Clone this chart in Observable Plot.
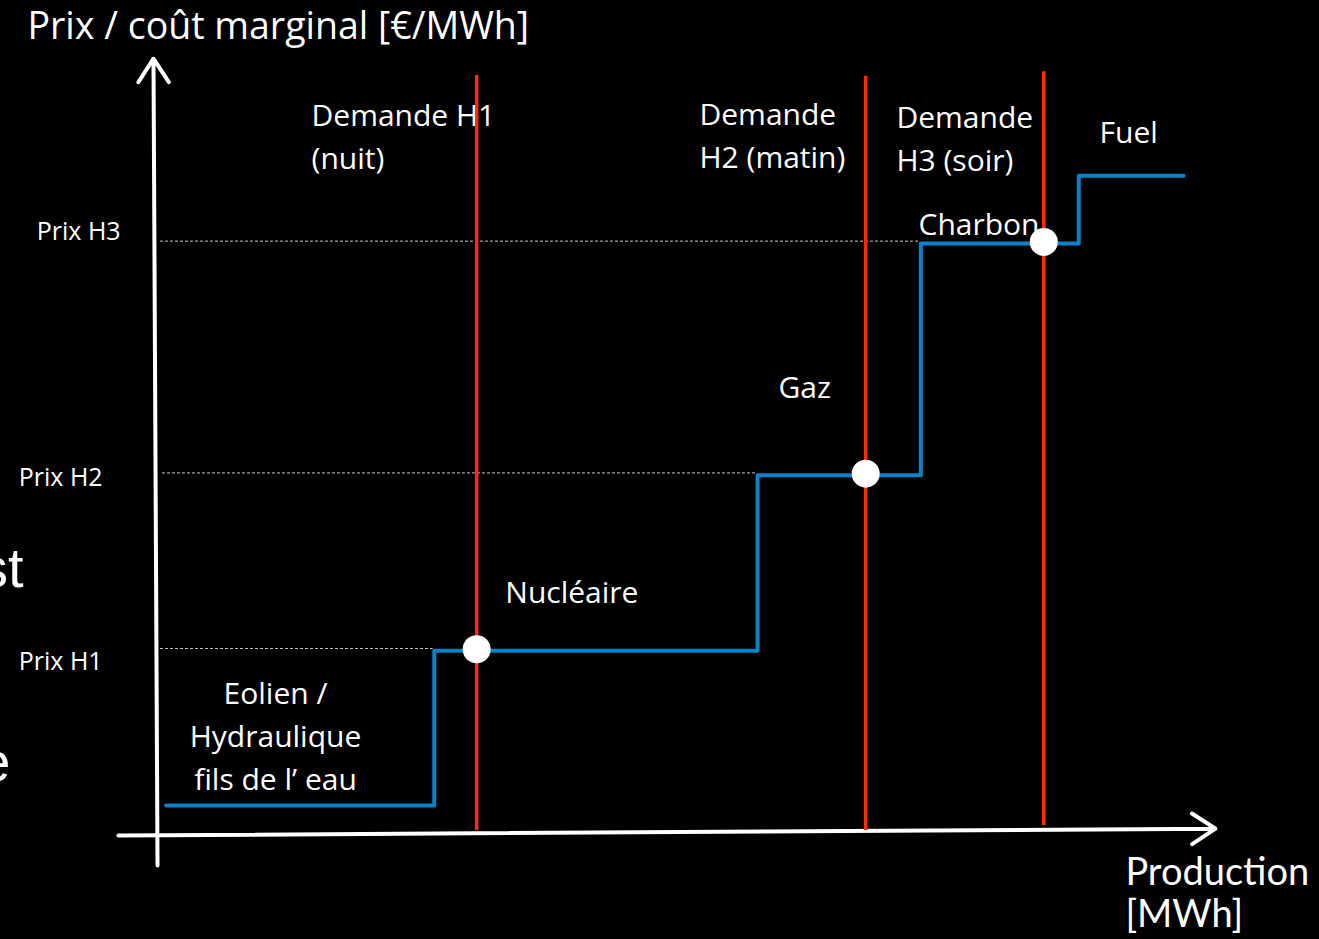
<!DOCTYPE html>
<html>
<head>
<meta charset="utf-8">
<script src="https://cdn.jsdelivr.net/npm/d3@7"></script>
<script src="https://cdn.jsdelivr.net/npm/@observablehq/plot@0.6"></script>
<style>
  html, body { margin: 0; padding: 0; background: #000; overflow: hidden; }
  #chart svg { display: block; }
</style>
</head>
<body>
<div id="chart"></div>
<script>
// ---- Data (merit order / courbe d'ordre de mérite) ----
const sources   = ["Eolien / Hydraulique fils de l’ eau", "Nucléaire", "Gaz", "Charbon", "Fuel"];
const capStart  = [1.0, 26.3, 56.8, 72.2, 87.1];   // production cumulée (début du palier)
const capEnd    = [26.3, 56.8, 72.2, 87.1, 97.0];  // production cumulée (fin du palier)
const cost      = [3.5, 23.6, 46.4, 76.5, 85.3];   // coût marginal

const hours        = ["H1", "H2", "H3"];
const hourNames    = ["nuit", "matin", "soir"];
const demand       = [30.3, 67.0, 83.8];
const marginalIdx  = [1, 2, 3];                     // source marginale pour chaque heure
const priceLabels  = ["Prix H1", "Prix H2", "Prix H3"];

// ---- Layout annotations (positions in data units) ----
const blue = "#0b82c8", red = "#ff2a0a";
const font = "'Open Sans', Lato, sans-serif";

const stepPts = capStart.map((x, i) => ({x, y: cost[i]}))
  .concat([{x: capEnd[capEnd.length - 1], y: cost[cost.length - 1]}]);

const demandTop = [98.3, 98.2, 98.8];
const demandBot = [0.26, 0.26, 0.9];
const dashStart = [0.0, 0.66, 0.47];

const priceLabelPos = [
  {x: -12.9, y: 23.4},
  {x: -12.9, y: 47.3},
  {x: -11.2, y: 79.3}
];

const labelsStart = [
  {text: `Demande ${hours[0]}\n(${hourNames[0]})`, x: 14.72, y: 95.7},
  {text: `Demande\n${hours[1]} (${hourNames[1]})`, x: 51.32, y: 95.85},
  {text: `Demande\n${hours[2]} (${hourNames[2]})`, x: 69.9, y: 95.45},
  {text: sources[4], x: 89.06, y: 93.5},
  {text: sources[3], x: 71.98, y: 81.55},
  {text: sources[2], x: 58.77, y: 60.35},
  {text: sources[1], x: 33.0, y: 33.75}
];
const labelsMiddle = [
  {text: "Eolien /\nHydraulique\nfils de l’ eau", x: 11.32, y: 20.6}
];

const chart = Plot.plot({
  width: 1319,
  height: 939,
  margin: 0,
  x: {domain: [0, 100], range: [155, 1215], axis: null},
  y: {domain: [0, 100], range: [832, 62], axis: null},
  style: {background: "#000", color: "#fff", fontFamily: font},
  marks: [
    // background slide fragments
    Plot.text([{t: "st", x: -12.45, y: 34.16}, {t: "e", x: -13.68, y: 8.96}], {
      x: "x", y: "y", text: "t", textAnchor: "end", lineAnchor: "middle",
      fill: "#fff", fontSize: 56, fontFamily: "'Liberation Sans', Arial, sans-serif"
    }),
    // axis titles
    Plot.text(["Prix / coût marginal [€/MWh]"], {
      x: -12.08, y: 106.5, text: d => d, textAnchor: "start", lineAnchor: "top",
      fill: "#fff", fontSize: 37.5, fontFamily: font
    }),
    Plot.text(["Production\n[MWh]"], {
      x: 91.5, y: -2.85, text: d => d, textAnchor: "start", lineAnchor: "top",
      fill: "#fff", fontSize: 38, lineHeight: 1.12, fontFamily: "Lato, sans-serif"
    }),
    // price labels
    Plot.text(priceLabels, {
      x: (d, i) => priceLabelPos[i].x, y: (d, i) => priceLabelPos[i].y, text: d => d,
      textAnchor: "start", lineAnchor: "top", fill: "#fff", fontSize: 25, fontFamily: font
    }),
    // segment / demand labels
    Plot.text(labelsStart, {
      x: "x", y: "y", text: "text", textAnchor: "start", lineAnchor: "top",
      fill: "#fff", fontSize: 30, lineHeight: 1.43, fontFamily: font
    }),
    Plot.text(labelsMiddle, {
      x: "x", y: "y", text: "text", textAnchor: "middle", lineAnchor: "top",
      fill: "#fff", fontSize: 30, lineHeight: 1.43, fontFamily: font
    }),
    // dashed price lines
    Plot.ruleY(hours, {
      y: (d, i) => cost[marginalIdx[i]] + 0.3,
      x1: (d, i) => dashStart[i],
      x2: (d, i) => capStart[marginalIdx[i]] - 0.1,
      stroke: "#c8c8c8", strokeWidth: 1, strokeDasharray: "3,2"
    }),
    // axes
    Plot.arrow([{x1: 0.19, y1: -4.3, x2: -0.19, y2: 100.5}], {
      x1: "x1", y1: "y1", x2: "x2", y2: "y2", stroke: "#fff", strokeWidth: 4,
      headLength: 10.5, headAngle: 66
    }),
    Plot.arrow([{x1: -3.5, y1: -0.4, x2: 100, y2: 0.5}], {
      x1: "x1", y1: "y1", x2: "x2", y2: "y2", stroke: "#fff", strokeWidth: 4,
      headLength: 10.5, headAngle: 66
    }),
    // supply curve
    Plot.line(stepPts, {x: "x", y: "y", curve: "step-after", stroke: blue, strokeWidth: 4}),
    // demand lines
    Plot.ruleX(demand, {
      x: d => d, y1: (d, i) => demandBot[i], y2: (d, i) => demandTop[i],
      stroke: red, strokeWidth: 3.5
    }),
    // equilibrium points
    Plot.dot(demand, {
      x: d => d, y: (d, i) => cost[marginalIdx[i]] + 0.2, r: 14, fill: "#fff", stroke: "none"
    })
  ]
});

document.getElementById("chart").appendChild(chart);
</script>
</body>
</html>
